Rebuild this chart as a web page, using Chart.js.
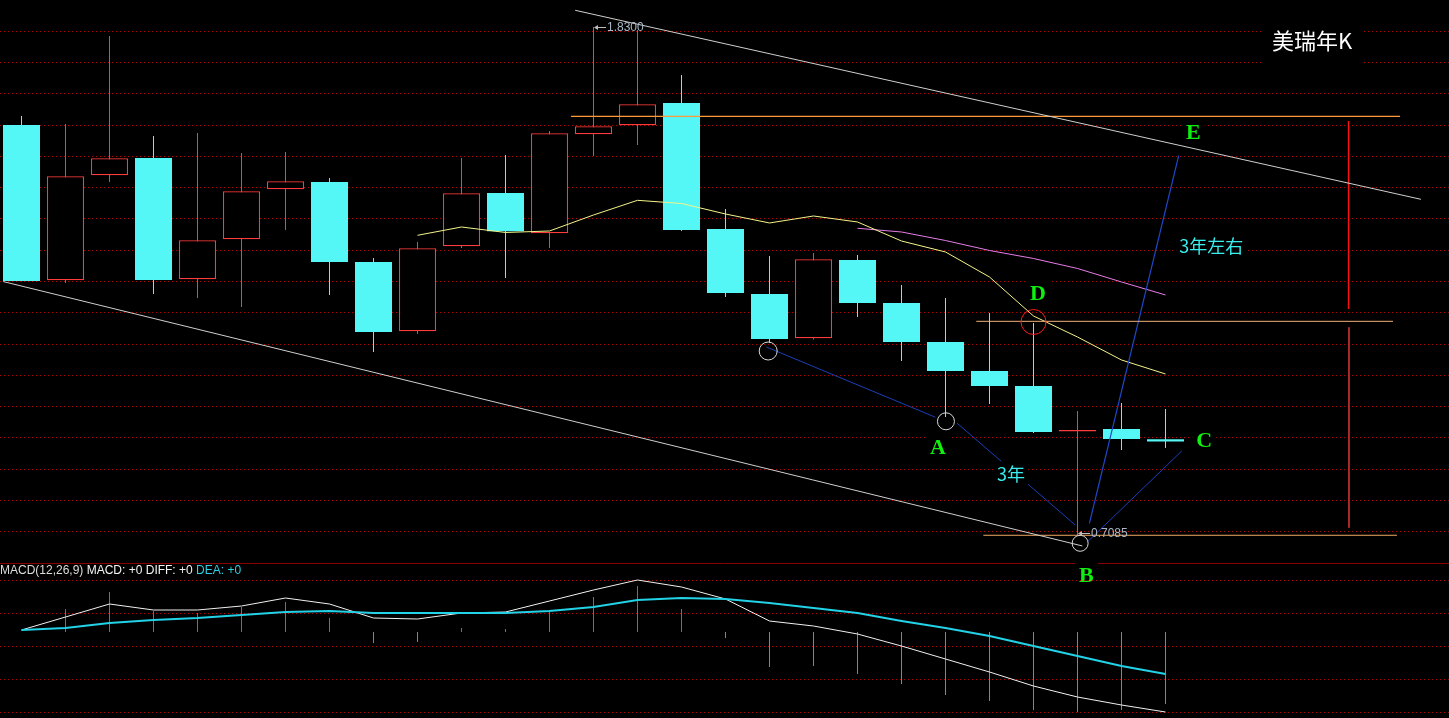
<!DOCTYPE html>
<html>
<head>
<meta charset="utf-8">
<script src="https://cdn.jsdelivr.net/npm/chart.js@4"></script>
<style>
  html, body { margin: 0; padding: 0; background: #000; overflow: hidden; }
  #wrap { position: relative; width: 1449px; height: 718px; }
  #main { position: absolute; left: 0; top: 0; }
  #macd { position: absolute; left: 0; top: 563px; }
</style>
</head>
<body>
<div id="wrap">
  <canvas id="main" width="1449" height="718"></canvas>
  <canvas id="macd" width="1449" height="155"></canvas>
</div>
<script>
// yearly candles
const opens  = [1.6138, 1.2711, 1.5028, 1.5410, 1.2733, 1.3616, 1.4719, 1.4880, 1.3115, 1.1586, 1.3461, 1.4637, 1.3748, 1.5933,
                1.6131, 1.6623, 1.3843, 1.2409, 1.1431, 1.3159, 1.2210, 1.1350, 1.0710, 1.0379, 0.9375, 0.9430, 0.9203];
const closes = [1.2696, 1.5006, 1.5403, 1.2718, 1.3594, 1.4675, 1.4896, 1.3115, 1.1570, 1.3417, 1.4631, 1.3792, 1.5955, 1.6109,
                1.6595, 1.3821, 1.2431, 1.1416, 1.3175, 1.2210, 1.1350, 1.0710, 1.0379, 0.9364, 0.9408, 0.9210, 0.9154];
const highs  = [1.6336, 1.6160, 1.8102, 1.5895, 1.5961, 1.5520, 1.5542, 1.4968, 1.3203, 1.3556, 1.5410, 1.5476, 1.6006, 1.8300,
                1.8234, 1.7241, 1.4284, 1.3247, 1.3314, 1.3269, 1.2607, 1.2321, 1.1990, 1.1769, 0.9827, 1.0004, 0.9871];
const lows   = [1.2690, 1.2652, 1.4880, 1.2409, 1.2321, 1.2122, 1.3821, 1.2387, 1.1129, 1.1526, 1.3424, 1.2762, 1.3424, 1.5454,
                1.5697, 1.3799, 1.2343, 1.1328, 1.1405, 1.1901, 1.0931, 0.9695, 0.9982, 0.9342, 0.7085, 0.8967, 0.9011];
const maYellow = [null, null, null, null, null, null, null, null, null,
                  1.3704, 1.3887, 1.3766, 1.3799, 1.4152, 1.4476, 1.4406, 1.4174, 1.3976, 1.4130, 1.3998, 1.3578,
                  1.3336, 1.2784, 1.1924, 1.1460, 1.0953, 1.0644];
const maPink   = [null, null, null, null, null, null, null, null, null, null, null, null, null, null, null, null, null, null, null,
                  1.3859, 1.3777, 1.3589, 1.3369, 1.3192, 1.2972, 1.2674, 1.2387];

// MACD panel
const diffLine = [0.002, 0.015, 0.028, 0.022, 0.022, 0.026, 0.034, 0.028, 0.014, 0.013, 0.019, 0.020, 0.031, 0.042,
                  0.052, 0.045, 0.033, 0.011, 0.006, -0.002, -0.014, -0.027, -0.040, -0.054, -0.065, -0.073, -0.080];
const deaLine  = [0.002, 0.004, 0.009, 0.012, 0.014, 0.017, 0.020, 0.021, 0.019, 0.019, 0.019, 0.019, 0.021, 0.025,
                  0.032, 0.034, 0.033, 0.029, 0.024, 0.019, 0.011, 0.004, -0.004, -0.014, -0.024, -0.034, -0.042];
const macdBars = [0, 0.023, 0.040, 0.021, 0.019, 0.025, 0.030, 0.014, -0.011, -0.010, 0.004, 0.003, 0.021, 0.035,
                  0.046, 0.023, -0.006, -0.035, -0.034, -0.042, -0.052, -0.063, -0.069, -0.078, -0.080, -0.078, -0.072];

// hand-drawn marks on the chart (x = candle index, y = price)
const trendLines = [
  { pts: [[12.584, 1.8669], [31.805, 1.4498]], color: '#cfcfcf', w: 1 },
  { pts: [[-0.416, 1.2683], [24.11, 0.6849]], color: '#cfcfcf', w: 1 },
  { pts: [[12.49, 1.6330], [31.33, 1.6330]], color: '#ff9a3a', w: 1.2 },
  { pts: [[21.70, 1.1806], [31.17, 1.1806]], color: '#f0b27a', w: 1 },
  { pts: [[21.86, 0.7085], [31.26, 0.7085]], color: '#f0a860', w: 1 },
  { pts: [[30.16, 1.6226], [30.16, 1.2078]], color: '#ff1010', w: 1.5 },
  { pts: [[30.17, 1.1674], [30.17, 0.7252]], color: '#c03030', w: 1 },
  { pts: [[16.93, 1.1239], [20.77, 0.9690]], color: '#1a3fb8', w: 1 },
  { pts: [[21.26, 0.9560], [23.95, 0.7312]], color: '#1a3fb8', w: 1 },
  { pts: [[24.27, 0.7349], [26.30, 1.5460]], color: '#2048c8', w: 1.2 },
  { pts: [[24.23, 0.6943], [26.37, 0.8945]], color: '#1a3fb8', w: 1 }
];
const circleMarks = [
  { x: 16.97, y: 1.1151, r: 9, color: '#d8d8d8' },
  { x: 21.01, y: 0.9600, r: 8.5, color: '#d8d8d8' },
  { x: 23.00, y: 1.1791, r: 12.5, color: '#ff1a1a' },
  { x: 24.06, y: 0.6908, r: 8, color: '#d8d8d8' }
];
const textMarks = [
  { text: '美瑞年K', x: 29.33, y: 1.8013, kind: 'title' },
  { text: 'E', x: 26.63, y: 1.5983, kind: 'point' },
  { text: 'D', x: 23.10, y: 1.2424, kind: 'point' },
  { text: 'A', x: 20.83, y: 0.9033, kind: 'point' },
  { text: 'C', x: 26.88, y: 0.9187, kind: 'point' },
  { text: 'B', x: 24.20, y: 0.6209, kind: 'point' },
  { text: '3年', x: 22.49, y: 0.8453, kind: 'note' },
  { text: '3年左右', x: 27.04, y: 1.3490, kind: 'note' }
];
const textStyles = {
  title: { font: '22px "Noto Sans CJK SC"', color: '#ffffff', padX: 9, padY: 24 },
  point: { font: 'bold 22px "Liberation Serif"', color: '#10f010', padX: 4, padY: 3 },
  note:  { font: '18px "Noto Sans CJK SC"', color: '#38eeee', padX: 3, padY: 2 }
};

const UP = '#ff3b3b', DOWN = '#55f6f6';
// candle centres land on half pixels so the 37px bodies and 1px wicks stay crisp
const X_MIN = -21.5 / 44, X_MAX = (1449 - 21.5) / 44;
const Y_MIN = 0.3053, Y_MAX = 1.8896;
const GRID_STEP = (Y_MAX - Y_MIN) * 31.28 / 718;
const priceGrid = Array.from({ length: 18 }, (_, k) => Y_MAX - (k + 1) * GRID_STEP);
const macdGrid = [0.052, 0.0188, -0.0144, -0.0476, -0.0808];

const idx = opens.map((_, i) => i);
const rising = i => closes[i] >= opens[i];

const markPlugin = {
  id: 'marks',
  afterDatasetsDraw(chart) {
    const ctx = chart.ctx, xs = chart.scales.x, ys = chart.scales.y;
    ctx.save();
    // extreme price tags
    const hi = highs.indexOf(Math.max(...highs));
    const lo = lows.indexOf(Math.min(...lows));
    [[hi, highs[hi], 0], [lo, lows[lo], -2]].forEach(([i, v, dy]) => {
      const px = Math.round(xs.getPixelForValue(i)), py = Math.round(ys.getPixelForValue(v)) + dy + 0.5;
      ctx.strokeStyle = '#bdbdbd';
      ctx.fillStyle = '#bdbdbd';
      ctx.lineWidth = 1;
      ctx.beginPath(); ctx.moveTo(px + 2, py); ctx.lineTo(px + 13, py); ctx.stroke();
      ctx.beginPath(); ctx.moveTo(px + 1, py); ctx.lineTo(px + 5, py - 2.5); ctx.lineTo(px + 5, py + 2.5); ctx.closePath(); ctx.fill();
      ctx.font = '12px "Liberation Sans"';
      ctx.fillStyle = '#a9b8c8';
      ctx.textAlign = 'left';
      ctx.textBaseline = 'middle';
      ctx.fillText(v.toFixed(4), px + 14, py);
    });
    // labels with black boxes
    textMarks.forEach(t => {
      const st = textStyles[t.kind];
      const px = xs.getPixelForValue(t.x), py = ys.getPixelForValue(t.y);
      ctx.font = st.font;
      const w = ctx.measureText(t.text).width;
      ctx.fillStyle = '#000';
      ctx.fillRect(px - w / 2 - st.padX, py - 10 - st.padY, w + 2 * st.padX, 20 + 2 * st.padY);
      ctx.fillStyle = st.color;
      ctx.textAlign = 'center';
      ctx.textBaseline = 'middle';
      ctx.fillText(t.text, px, py + 1);
    });
    ctx.restore();
  }
};

const mainSets = [
  {
    type: 'bar', order: 5, grouped: false, barThickness: 1, inflateAmount: 0,
    data: idx.map(i => ({ x: i, y: [lows[i], highs[i]] })),
    backgroundColor: c => rising(c.dataIndex) ? UP : DOWN
  },
  {
    type: 'bar', order: 4, grouped: false, barThickness: 37, borderSkipped: false, inflateAmount: 0,
    data: idx.map(i => ({ x: i, y: [opens[i], closes[i]] })),
    backgroundColor: c => rising(c.dataIndex) ? '#000' : DOWN,
    borderColor: c => rising(c.dataIndex) ? UP : DOWN,
    borderWidth: c => rising(c.dataIndex) ? 1.2 : 0
  },
  {
    type: 'line', order: 3, data: idx.map(i => ({ x: i, y: maYellow[i] })),
    borderColor: '#f4f48a', borderWidth: 1, pointRadius: 0, tension: 0
  },
  {
    type: 'line', order: 3, data: idx.map(i => ({ x: i, y: maPink[i] })),
    borderColor: '#e77ce7', borderWidth: 1, pointRadius: 0, tension: 0
  }
];
trendLines.forEach(l => mainSets.push({
  type: 'line', order: 2, data: l.pts.map(p => ({ x: p[0], y: p[1] })),
  borderColor: l.color, borderWidth: l.w, pointRadius: 0, tension: 0
}));
circleMarks.forEach(c => mainSets.push({
  type: 'scatter', order: 1, data: [{ x: c.x, y: c.y }],
  pointStyle: 'circle', pointRadius: c.r, borderColor: c.color, borderWidth: 1,
  backgroundColor: 'rgba(0,0,0,0)'
}));

const hiddenX = { type: 'linear', min: X_MIN, max: X_MAX, offset: false, display: false };

new Chart(document.getElementById('main'), {
  type: 'bar',
  data: { datasets: mainSets },
  options: {
    responsive: false, animation: false, devicePixelRatio: 1, events: [],
    layout: { padding: 0, autoPadding: false },
    plugins: { legend: { display: false }, tooltip: { enabled: false } },
    scales: {
      x: hiddenX,
      y: {
        type: 'linear', min: Y_MIN, max: Y_MAX,
        ticks: { display: false },
        grid: { drawTicks: false, lineWidth: 1, color: c => c.index === priceGrid.length - 1 ? '#8a0000' : '#b00000' },
        border: { display: false, dash: c => c.index === priceGrid.length - 1 ? [] : [1, 3] },
        afterBuildTicks: s => { s.ticks = priceGrid.map(v => ({ value: v })); }
      }
    }
  },
  plugins: [markPlugin]
});

const macdTitle = {
  id: 'macdTitle',
  afterDraw(chart) {
    const ctx = chart.ctx;
    ctx.save();
    ctx.font = '12px "Liberation Sans"';
    ctx.textAlign = 'left';
    ctx.textBaseline = 'middle';
    const parts = [['MACD(12,26,9) ', '#dcdcdc'], ['MACD: +0 DIFF: +0 ', '#f4f4f4'], ['DEA: +0', '#2cd0e4']];
    let x = 0;
    parts.forEach(([t, col]) => { ctx.fillStyle = col; ctx.fillText(t, x, 8); x += ctx.measureText(t).width; });
    ctx.restore();
  }
};

new Chart(document.getElementById('macd'), {
  type: 'bar',
  data: {
    datasets: [
      {
        type: 'line', order: 1, data: idx.map(i => ({ x: i, y: deaLine[i] })),
        borderColor: '#22d2e6', borderWidth: 2.2, pointRadius: 0, tension: 0
      },
      {
        type: 'line', order: 2, data: idx.map(i => ({ x: i, y: diffLine[i] })),
        borderColor: '#f0f0f0', borderWidth: 1, pointRadius: 0, tension: 0
      },
      {
        type: 'bar', order: 3, grouped: false, barThickness: 1, inflateAmount: 0,
        data: idx.map(i => ({ x: i, y: macdBars[i] })),
        backgroundColor: c => macdBars[c.dataIndex] >= 0 ? '#ff3434' : '#14d414'
      }
    ]
  },
  options: {
    responsive: false, animation: false, devicePixelRatio: 1, events: [],
    layout: { padding: 0, autoPadding: false },
    plugins: { legend: { display: false }, tooltip: { enabled: false } },
    scales: {
      x: hiddenX,
      y: {
        type: 'linear', min: -0.086, max: 0.069,
        ticks: { display: false },
        grid: { drawTicks: false, lineWidth: 1, color: '#b00000' },
        border: { display: false, dash: [1, 3] },
        afterBuildTicks: s => { s.ticks = macdGrid.map(v => ({ value: v })); }
      }
    }
  },
  plugins: [macdTitle]
});
</script>
</body>
</html>
